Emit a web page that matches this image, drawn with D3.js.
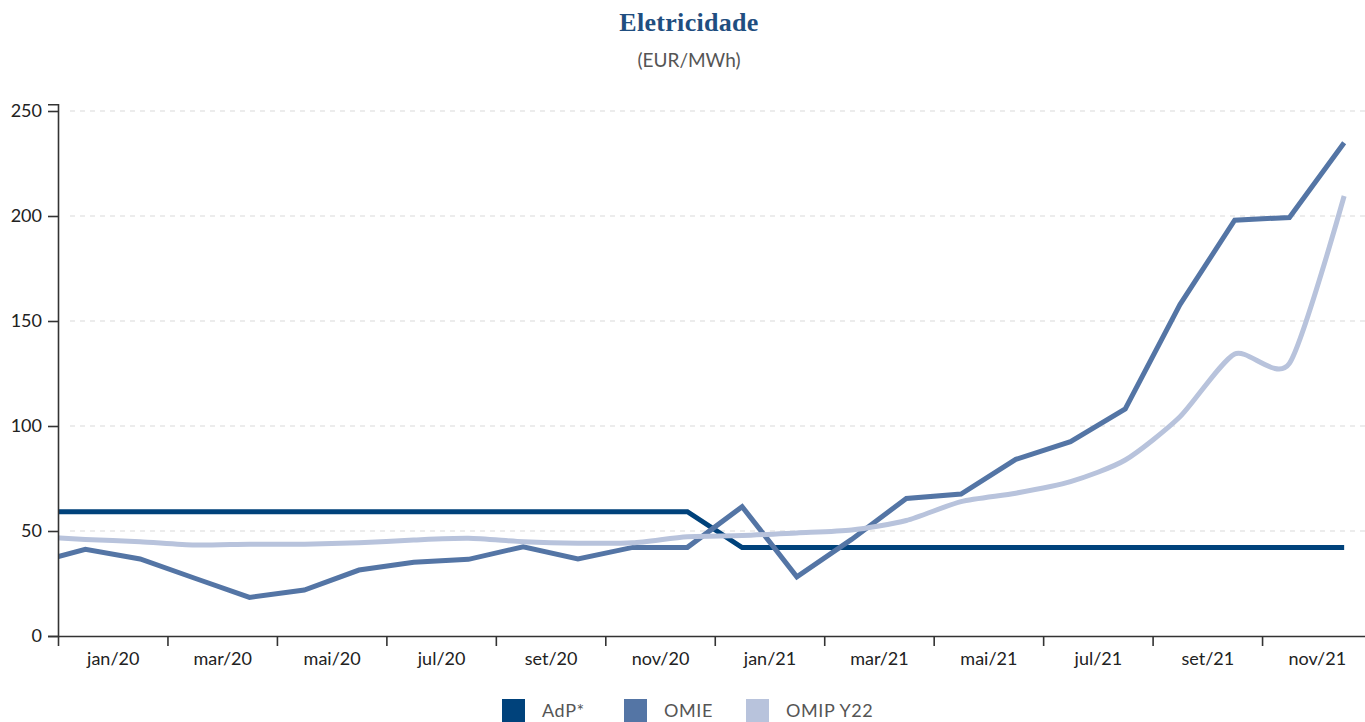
<!DOCTYPE html>
<html><head><meta charset="utf-8">
<script src="https://cdn.jsdelivr.net/npm/d3@7"></script>
<style>
body{margin:0;background:#fff;}
svg{display:block;}
</style></head>
<body>
<svg id="c" width="1365" height="722"></svg>
<script>
// Months: dec/19 (partly hidden at left edge) then jan/20 .. dec/21
const months = ["dez/19","jan/20","fev/20","mar/20","abr/20","mai/20","jun/20","jul/20","ago/20","set/20","out/20","nov/20","dez/20",
  "jan/21","fev/21","mar/21","abr/21","mai/21","jun/21","jul/21","ago/21","set/21","out/21","nov/21","dez/21"];
const adp  = [59.2,59.2,59.2,59.2,59.2,59.2,59.2,59.2,59.2,59.2,59.2,59.2,59.2,
  42.1,42.1,42.1,42.1,42.1,42.1,42.1,42.1,42.1,42.1,42.1,42.1];
const omie = [34.3,41.3,36.7,27.5,18.4,21.9,31.4,35.1,36.5,42.5,36.7,42.2,42.2,
  61.6,28.2,46.0,65.5,67.6,84.1,92.5,108.1,157.8,198.0,199.3,234.9];
const omip = [47.6,46.0,44.9,43.3,43.7,43.7,44.4,45.7,46.5,44.9,44.2,44.4,47.3,
  47.8,49.1,50.5,55.0,64.0,68.0,73.5,83.8,104.4,134.3,129.8,209.5];
const xLabels = ["jan/20","mar/20","mai/20","jul/20","set/20","nov/20","jan/21","mar/21","mai/21","jul/21","set/21","nov/21"];
const yTicks = [0,50,100,150,200,250];
const seriesNames = ["AdP*","OMIE","OMIP Y22"];
const colors = ["#00427b","#5475a5","#b8c3dc"];

const svg = d3.select("#c");
const left = 58, monthW = 54.73, nM = 24;
const x = d3.scaleLinear().domain([0, nM]).range([left, left + nM*monthW]);
const y = d3.scaleLinear().domain([0, 253.2]).range([636, 636 - 253.2*2.1]);

// title
svg.append("text").attr("x",689).attr("y",31).attr("text-anchor","middle")
  .attr("font-family","'Liberation Serif', serif").attr("font-weight","bold")
  .attr("font-size",26).attr("letter-spacing",0.3).attr("fill","#1f4e80").text("Eletricidade");
svg.append("text").attr("x",689).attr("y",67).attr("text-anchor","middle")
  .attr("font-family","Lato, sans-serif").attr("font-size",19)
  .attr("fill","#555").text("(EUR/MWh)");

// grid
svg.append("g").selectAll("line").data(yTicks.filter(d=>d>0)).join("line")
  .attr("x1",left+12).attr("x2",1365).attr("y1",d=>y(d)).attr("y2",d=>y(d))
  .attr("stroke","#d9d9d9").attr("stroke-width",1).attr("stroke-dasharray","5,5");

// clip
svg.append("clipPath").attr("id","clip").append("rect")
  .attr("x",left).attr("y",0).attr("width",1400).attr("height",700);

const idx = months.map((m,i)=>i - 0.5);
const datasets = [adp, omie, omip];
const curves = [d3.curveLinear, d3.curveLinear, d3.curveCardinal.tension(0.3)];
const g = svg.append("g").attr("clip-path","url(#clip)");
datasets.forEach((vals, k) => {
  const line = d3.line().x((d,i)=>x(idx[i])).y(d=>y(d)).curve(curves[k]);
  g.append("path").datum(vals).attr("d",line).attr("fill","none")
    .attr("stroke",colors[k]).attr("stroke-width",5).attr("stroke-linejoin","miter")
    .attr("stroke-linecap","butt");
});

// y axis
const yAx = svg.append("g").attr("transform",`translate(${left},0)`)
  .call(d3.axisLeft(y).tickValues(yTicks).tickSize(10).tickPadding(6));
yAx.select(".domain").attr("stroke","#333").attr("stroke-width",1.6);
yAx.selectAll(".tick line").attr("stroke","#333").attr("stroke-width",1.6);
yAx.selectAll(".tick text").attr("font-family","Lato, sans-serif").attr("font-size",18).attr("fill","#222");

// x axis ticks
const xAx = svg.append("g").attr("transform",`translate(0,636)`)
  .call(d3.axisBottom(x).tickValues(d3.range(0, nM+1, 2)).tickSize(10).tickFormat("").tickSizeOuter(0));
xAx.select(".domain").attr("stroke","#333").attr("stroke-width",1.6);
xAx.selectAll(".tick line").attr("stroke","#333").attr("stroke-width",1.6);
const xLab = svg.append("g").attr("transform",`translate(0,636)`)
  .call(d3.axisBottom(x).tickValues(d3.range(1, nM, 2)).tickSize(0).tickPadding(16)
    .tickFormat((d,i)=>xLabels[i]));
xLab.select(".domain").remove();
xLab.selectAll(".tick text").attr("font-family","Lato, sans-serif").attr("font-size",18).attr("fill","#222");

// legend
const legX = [502, 624, 746];
const lg = svg.append("g");
seriesNames.forEach((n,k)=>{
  lg.append("rect").attr("x",legX[k]).attr("y",699).attr("width",23).attr("height",23).attr("fill",colors[k]);
  lg.append("text").attr("x",legX[k]+40).attr("y",717).attr("font-family","Lato, sans-serif")
    .attr("font-size",18).attr("letter-spacing",0.6).attr("fill","#555").text(n);
});
</script>
</body></html>
